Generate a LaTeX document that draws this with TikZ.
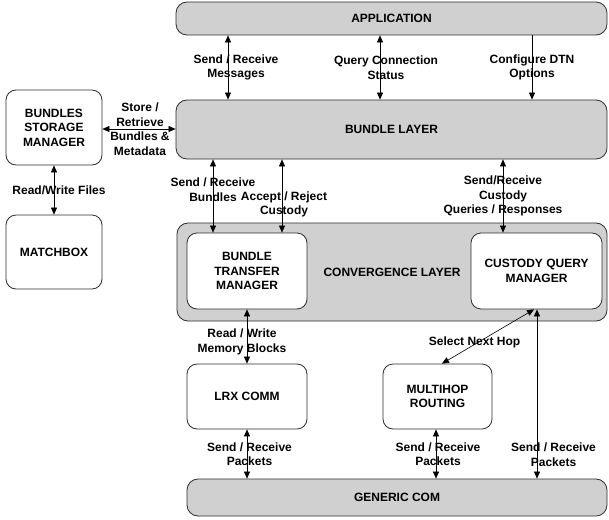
\documentclass[tikz,border=0pt]{standalone}
\usepackage{fontspec}
\setmainfont{Liberation Sans}
\usepackage{tikz}
\usetikzlibrary{arrows.meta,positioning}
\definecolor{layergray}{RGB}{208,208,208}
\definecolor{edgegray}{RGB}{45,45,45}
\newcommand{\labelfont}{\fontsize{12}{14.5}\selectfont\bfseries}
\tikzset{
  layerbox/.style={draw=edgegray, rounded corners=11pt, line width=0.8pt,
    fill=layergray, align=center, font=\labelfont, inner sep=0pt},
  modbox/.style={draw=edgegray, rounded corners=10pt, line width=0.8pt,
    fill=white, align=center, font=\labelfont, inner sep=0pt},
  flow/.style={-{Triangle[length=7pt,width=6pt]}, line width=0.6pt},
  biflow/.style={{Triangle[length=7pt,width=6pt]}-{Triangle[length=7pt,width=6pt]}, line width=0.6pt},
  tag/.style={align=center, font=\labelfont, inner sep=0pt}
}

\begin{document}
\begin{tikzpicture}[x=1pt, y=-1pt]
\useasboundingbox (0,0) rectangle (609,519);
% layers
\node[layerbox, minimum width=431pt, minimum height=33pt] (app) at (391.5,18.5) {APPLICATION};
\node[layerbox, minimum width=431pt, minimum height=59pt] (bl) at (391.5,129.5) {BUNDLE LAYER};
\node[layerbox, minimum width=430pt, minimum height=98pt] (cl) at (392,272) {CONVERGENCE LAYER};
\node[layerbox, minimum width=420pt, minimum height=37pt] (gc) at (397,497.5) {GENERIC COM};
% modules
\node[modbox, minimum width=96pt, minimum height=75pt] (bsm) at (54,127.5) {BUNDLES\\STORAGE\\MANAGER};
\node[modbox, minimum width=96pt, minimum height=74pt] (mbx) at (54,252) {MATCHBOX};
\node[modbox, minimum width=120pt, minimum height=76pt] (btm) at (247,271) {BUNDLE\\TRANSFER\\MANAGER};
\node[modbox, minimum width=131pt, minimum height=76pt] (cqm) at (536.5,271) {CUSTODY QUERY\\MANAGER};
\node[modbox, minimum width=120pt, minimum height=65pt] (lrx) at (247,396.5) {LRX COMM};
\node[modbox, minimum width=109pt, minimum height=65pt] (mhr) at (437.5,396.5) {MULTIHOP\\ROUTING};

% application <-> bundle layer
\draw[biflow] (228,0 |- app.south) -- (228,0 |- bl.north) node[tag, midway, xshift=8pt] {Send / Receive\\Messages};
\draw[biflow] (380,0 |- app.south) -- (380,0 |- bl.north) node[tag, midway, xshift=6pt] {Query Connection\\Status};
\draw[flow] (532,0 |- app.south) -- (532,0 |- bl.north) node[tag, midway] {Configure DTN\\Options};
% storage
\draw[biflow] (bsm.east |- 0,129) -- (bl.west |- 0,129) node[tag, midway, xshift=1pt] {Store /\\Retrieve\\Bundles \&\\Metadata};
\draw[biflow] (bsm) -- (mbx) node[tag, midway, xshift=5pt] {Read/Write Files};
% bundle layer <-> convergence layer
\draw[biflow] (213,0 |- bl.south) -- (213,0 |- btm.north) node[tag, midway, yshift=6.5pt] {Send / Receive\\Bundles};
\draw[biflow] (282,0 |- bl.south) -- (282,0 |- btm.north) node[tag, midway, xshift=2pt, yshift=-8.5pt] {Accept / Reject\\Custody};
\draw[biflow] (503,0 |- bl.south) -- (503,0 |- cqm.north) node[tag, midway] {Send/Receive\\Custody\\Queries / Responses};
% lower modules
\draw[biflow] (btm) -- (lrx) node[tag, midway, xshift=-5pt, yshift=-5.5pt] {Read / Write\\Memory Blocks};
\draw[biflow] (442,0 |- mhr.north) -- (534,0 |- cqm.south) node[tag, midway, xshift=-13.5pt, yshift=-5.5pt] {Select Next Hop};
\draw[biflow] (lrx) -- (lrx |- gc.north) node[tag, midway, xshift=2.5pt] {Send / Receive\\Packets};
\draw[biflow] (436,0 |- mhr.south) -- (436,0 |- gc.north) node[tag, midway, xshift=2pt] {Send / Receive\\Packets};
\draw[biflow] (537,0 |- cqm.south) -- (537,0 |- gc.north) node[tag, pos=0.86, xshift=16.5pt] {Send / Receive\\Packets};
\end{tikzpicture}
\end{document}
